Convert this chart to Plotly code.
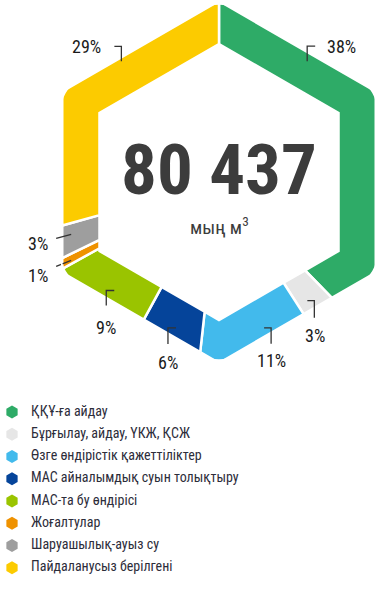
import math
import plotly.graph_objects as go

# ---------------- data ----------------
categories = [
    "ҚҚҰ-ға айдау",
    "Бұрғылау, айдау, ҮКЖ, ҚСЖ",
    "Өзге өндірістік қажеттіліктер",
    "МАС айналымдық суын толықтыру",
    "МАС-та бу өндірісі",
    "Жоғалтулар",
    "Шаруашылық-ауыз су",
    "Пайдаланусыз берілгені",
]
shares = [38, 3, 11, 6, 9, 1, 3, 29]
total_value = "80 437"
unit_label = "мың м<sup>3</sup>"

# ---------------- style ----------------
colors = ["#2EAB67", "#E6E6E6", "#42BAEC", "#05449A", "#9AC400", "#EF9200", "#9E9E9E", "#FCCB00"]
W, H = 383, 590
CHART_H = 380
CX, CY, R_OUT, R_IN = 219, 182, 181, 138
CORNER = 21
FONT = "Roboto Condensed, Liberation Sans Narrow, Arial Narrow, sans-serif"
LEG_TOP, LEG_BOTTOM = 401, 579
LEG_MARK_X, LEG_TEXT_X = 12, 31

# label placement: (fraction inside segment, ring scale, leader offsets px, text offset px, xanchor)
label_style = [
    (0.26, 0.949, [(0, 0), (0, -15), (8, -15)], (18, -15), "left"),
    (0.48, 0.96, [(-7, 0), (0, 0), (0, 17)], (1, 35), "center"),
    (0.30, 0.972, [(-7, 0), (0, 0), (0, 16)], (0, 33), "center"),
    (0.60, 0.969, [(8, 0), (0, 0), (0, 16)], (0, 35), "center"),
    (0.50, 0.959, [(8, 0), (0, 0), (0, 15)], (0, 37), "center"),
    (0.34, 0.943, [(0, 0), (-15, 6)], (-21, 15), "right"),
    (0.63, 0.943, [(0, 0), (-15, 4)], (-21, 9), "right"),
    (0.634, 0.978, [(0, 0), (0, -15), (-7, -15)], (-18, -15), "right"),
]


def hex_point(p, r):
    k = min(int(p * 6), 5)
    t = p * 6 - k
    a0, a1 = math.radians(60 * k), math.radians(60 * (k + 1))
    x0, y0 = CX + r * math.sin(a0), CY - r * math.cos(a0)
    x1, y1 = CX + r * math.sin(a1), CY - r * math.cos(a1)
    return x0 + t * (x1 - x0), y0 + t * (y1 - y0)


def ring_segment(p0, p1):
    pts = [p0] + [k / 6 for k in range(1, 6) if p0 < k / 6 < p1] + [p1]
    outer = [hex_point(p, R_OUT) for p in pts]
    inner = [hex_point(p, R_IN) for p in reversed(pts)]
    poly = outer + inner + [outer[0]]
    return [q[0] for q in poly], [q[1] for q in poly]


fig = go.Figure()
total = sum(shares)
cum = 0
shapes = []
annotations = []
for i, (cat, val, col) in enumerate(zip(categories, shares, colors)):
    p0 = cum / total
    p1 = (cum + val) / total
    cum += val
    xs, ys = ring_segment(p0, p1)
    fig.add_trace(go.Scatter(
        x=xs, y=ys, fill="toself", fillcolor=col, mode="lines",
        line=dict(color="white", width=2.5), hoverinfo="text", text=f"{cat}: {val}%",
        showlegend=False,
    ))
    frac, sc, leader, toff, xa = label_style[i]
    ax, ay = hex_point(p0 + frac * (p1 - p0), R_OUT * sc)
    path = "M " + " L ".join(f"{ax + dx:.2f},{ay + dy:.2f}" for dx, dy in leader)
    shapes.append(dict(type="path", path=path, xref="x", yref="y",
                       line=dict(color="#333333", width=1.3), layer="above"))
    annotations.append(dict(x=ax + toff[0], y=ay + toff[1], xref="x", yref="y",
                            text=f"{val}%", showarrow=False, xanchor=xa, yanchor="middle",
                            font=dict(family=FONT, size=18, color="#1a1a1a")))

# rounded outer corners (white masks)
RM = R_OUT + 1.5
for k in range(6):
    a = math.radians(60 * k)
    vx, vy = CX + RM * math.sin(a), CY - RM * math.cos(a)
    ap, an = math.radians(60 * (k - 1)), math.radians(60 * (k + 1))
    px, py = CX + RM * math.sin(ap), CY - RM * math.cos(ap)
    nx, ny = CX + RM * math.sin(an), CY - RM * math.cos(an)
    pax, pay = vx + (px - vx) * CORNER / RM, vy + (py - vy) * CORNER / RM
    pbx, pby = vx + (nx - vx) * CORNER / RM, vy + (ny - vy) * CORNER / RM
    path = (f"M {pax:.2f},{pay:.2f} L {vx:.2f},{vy:.2f} L {pbx:.2f},{pby:.2f} "
            f"Q {vx:.2f},{vy:.2f} {pax:.2f},{pay:.2f} Z")
    shapes.append(dict(type="path", path=path, xref="x", yref="y",
                       fillcolor="white", line=dict(width=0), layer="above"))

# legend drawn on its own category axis
fig.add_trace(go.Scatter(
    x=[LEG_MARK_X] * len(categories), y=categories, xaxis="x2", yaxis="y2",
    mode="markers", marker=dict(symbol="hexagon", size=13, color=colors),
    hoverinfo="skip", showlegend=False,
))
fig.add_trace(go.Scatter(
    x=[LEG_TEXT_X] * len(categories), y=categories, xaxis="x2", yaxis="y2",
    mode="text", text=categories, textposition="middle right",
    textfont=dict(family=FONT, size=14, color="#2d2d3a"),
    hoverinfo="skip", showlegend=False,
))

annotations.append(dict(x=CX, y=169, xref="x", yref="y", text=total_value, showarrow=False,
                        font=dict(family=FONT, size=71, color="#3c3c3c", weight=700),
                        xanchor="center", yanchor="middle"))
annotations.append(dict(x=CX, y=226, xref="x", yref="y", text=unit_label, showarrow=False,
                        font=dict(family=FONT, size=19, color="#3c3c3c"),
                        xanchor="center", yanchor="middle"))

n = len(categories)
fig.update_layout(
    width=W, height=H,
    margin=dict(l=0, r=0, t=0, b=0),
    paper_bgcolor="white", plot_bgcolor="white",
    xaxis=dict(range=[0, W], visible=False, domain=[0, 1], fixedrange=True),
    yaxis=dict(range=[CHART_H, 0], visible=False, domain=[1 - CHART_H / H, 1], fixedrange=True),
    xaxis2=dict(range=[0, W], visible=False, domain=[0, 1], anchor="y2", fixedrange=True),
    yaxis2=dict(type="category", categoryorder="array", categoryarray=categories,
                range=[n - 0.5, -0.5], visible=False, anchor="x2", fixedrange=True,
                domain=[1 - LEG_BOTTOM / H, 1 - LEG_TOP / H]),
    shapes=shapes,
    annotations=annotations,
    showlegend=False,
)

fig.write_html("out.html", config={"displayModeBar": False},
               post_script="document.body.style.margin='0';document.body.style.overflow='hidden';")
